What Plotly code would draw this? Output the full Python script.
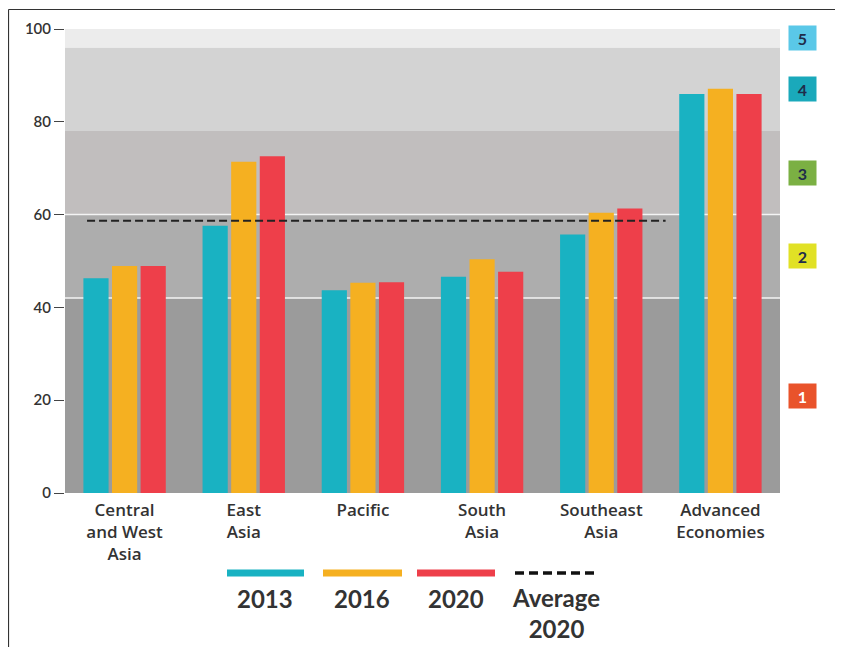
import plotly.graph_objects as go

categories = ["Central<br>and West<br>Asia", "East<br>Asia", "Pacific", "South<br>Asia",
              "Southeast<br>Asia", "Advanced<br>Economies"]
years = ["2013", "2016", "2020"]
v2013 = [46.3, 57.6, 43.7, 46.6, 55.7, 86.0]
v2016 = [48.9, 71.4, 45.3, 50.4, 60.4, 87.1]
v2020 = [48.9, 72.6, 45.4, 47.7, 61.3, 86.0]
average_2020 = 58.7
band_edges = [0, 42, 60, 78, 96, 100]
band_labels = ["1", "2", "3", "4", "5"]
y_ticks = [0, 20, 40, 60, 80, 100]

colors = ["#19b2c2", "#f5b021", "#ee3f4a"]
band_fill = ["#9b9b9b", "#adadad", "#c1bebe", "#d3d3d3", "#ececec"]
badge_fill = ["#e9532b", "#e1e125", "#7bb043", "#1aa9bb", "#5ac8e8"]
badge_text = ["#ffffff", "#1f2d4a", "#1f2d4a", "#1f2d4a", "#1f2d4a"]
FONT = "Lato"

fig = go.Figure()
for name, vals, c in zip(years, [v2013, v2016, v2020], colors):
    fig.add_trace(go.Bar(x=categories, y=vals, name=name, marker_color=c,
                         marker_line_width=0, showlegend=False))

shapes = []
# background bands
for i in range(len(band_edges) - 1):
    shapes.append(dict(type="rect", xref="paper", yref="y", x0=0, x1=1,
                       y0=band_edges[i], y1=band_edges[i + 1],
                       fillcolor=band_fill[i], line_width=0, layer="below"))
for yv in [42, 60]:
    shapes.append(dict(type="line", xref="paper", yref="y", x0=0, x1=1, y0=yv, y1=yv,
                       line=dict(color="#f4f4f4", width=1.5), layer="below"))
# average line
shapes.append(dict(type="line", xref="x", yref="y", x0=-0.315, x1=4.54,
                   y0=average_2020, y1=average_2020,
                   line=dict(color="#222222", width=2, dash="8px,4px")))

annotations = []
for i, lab in enumerate(band_labels):
    mid = (band_edges[i] + band_edges[i + 1]) / 2
    annotations.append(dict(x=1.031, xref="paper", y=mid, yref="y", text="<b>%s</b>" % lab,
                            xanchor="center", yanchor="middle",
                            showarrow=False, bgcolor=badge_fill[i], width=25, height=22,
                            font=dict(family=FONT, size=16, color=badge_text[i])))

# custom legend (coordinates expressed in screenshot pixels)
def px(x):
    return (x - 65) / 715

def py(y):
    return (493 - y) / 464

leg = [(227, 304, colors[0], "solid", 7), (323, 402, colors[1], "solid", 7),
       (417, 495, colors[2], "solid", 7), (515, 597, "#111111", "9px,5px", 3.5)]
for x0, x1, c, d, w in leg:
    shapes.append(dict(type="line", xref="paper", yref="paper", x0=px(x0), x1=px(x1),
                       y0=py(573), y1=py(573), line=dict(color=c, width=w, dash=d)))
for cx, t in [(265, "2013"), (362, "2016"), (456, "2020")]:
    annotations.append(dict(x=px(cx), y=py(598), xref="paper", yref="paper", text=t,
                            xanchor="center", yanchor="middle", showarrow=False,
                            font=dict(family=FONT, size=24, color="#333333", weight=700)))
annotations.append(dict(x=px(556), y=py(613), xref="paper", yref="paper",
                        text="Average<br>2020", showarrow=False,
                        xanchor="center", yanchor="middle",
                        font=dict(family=FONT, size=24, color="#333333", weight=700)))

# frame (left and top edges)
shapes.append(dict(type="line", xref="paper", yref="paper", x0=px(8.5), x1=px(850),
                   y0=py(9.5), y1=py(9.5), line=dict(color="#333333", width=1.2)))
shapes.append(dict(type="line", xref="paper", yref="paper", x0=px(8.5), x1=px(8.5),
                   y0=py(9.5), y1=py(660), line=dict(color="#333333", width=1.2)))

fig.update_layout(
    width=835, height=639,
    margin=dict(l=57, r=63, t=21, b=154),
    paper_bgcolor="white", plot_bgcolor="white",
    barmode="group", bargap=0.28, bargroupgap=0.12,
    shapes=shapes, annotations=annotations,
    font=dict(family=FONT, color="#333333"),
    xaxis=dict(showgrid=False, showline=False, zeroline=False, ticks="",
               ticklabelstandoff=5,
               tickfont=dict(family="Open Sans", size=17, color="#333333", weight=600)),
    yaxis=dict(range=[0, 100], tickvals=y_ticks, showgrid=False, zeroline=False,
               showline=False, ticks="outside", ticklen=10, tickwidth=1.2,
               tickcolor="#444444",
               tickfont=dict(family=FONT, size=15, color="#333333", weight=600)),
)

fig.write_html("out.html")
